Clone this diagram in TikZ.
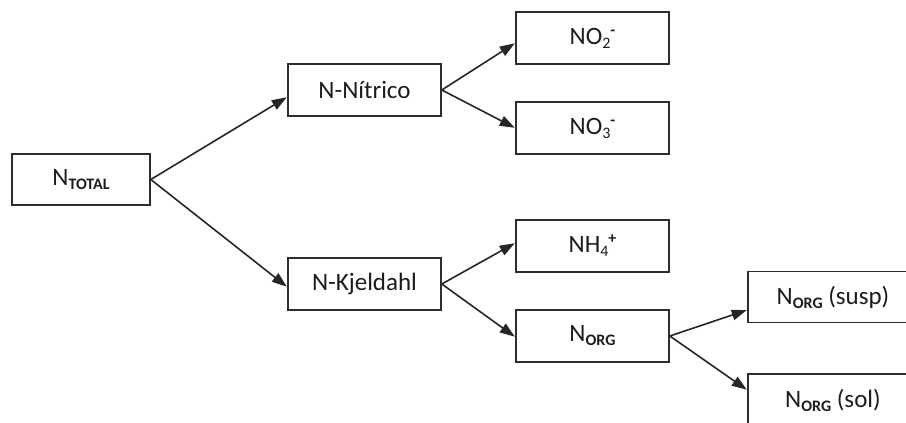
\documentclass[tikz,border=0pt]{standalone}
\usepackage{fontspec}
\setmainfont{Carlito}
\usetikzlibrary{arrows.meta,calc}

% lowered / raised small text for chemical formulas
\newcommand{\lowtxt}[1]{\raisebox{-0.16em}{\fontsize{16}{16}\selectfont #1}}
\newcommand{\hightxt}[1]{\raisebox{0.36em}{\fontsize{16}{16}\selectfont #1}}

\definecolor{ink}{HTML}{1C1C1C}
\definecolor{edge}{HTML}{2E2E2E}

\tikzset{
  box/.style={draw=edge, line width=1.6pt, fill=white, text=ink,
              minimum width=153pt, minimum height=52pt, inner sep=0pt,
              font=\fontsize{25}{28}\selectfont},
  widebox/.style={box, minimum width=170pt, minimum height=51pt},
  link/.style={draw=black!85, line width=1.6pt,
               -{Triangle[length=15pt,width=10.5pt]}, shorten >=0.5pt}
}

\begin{document}
\begin{tikzpicture}[x=1pt,y=-1pt]
  \useasboundingbox (0,0) rectangle (906,423);
  \clip (0,0) rectangle (906,423);

  % nodes
  \node[box, minimum width=138pt, minimum height=51pt] (total) at (81,179.5) {N\lowtxt{\bfseries TOTAL}};
  \node[box] (nit) at (364.5,90)  {N-Nítrico};
  \node[box] (kj)  at (364.5,284) {N-Kjeldahl};
  \node[box] (no2) at (592.5,38)  {NO\lowtxt{2}\hightxt{\bfseries -}};
  \node[box] (no3) at (592.5,128) {NO\lowtxt{3}\hightxt{\bfseries -}};
  \node[box] (nh4) at (592.5,246) {NH\lowtxt{4}\hightxt{\bfseries +}};
  \node[box] (norg) at (592.5,336) {N\lowtxt{\bfseries ORG}};
  \node[widebox] (susp) at (833,297) {N\lowtxt{\bfseries ORG} (susp)};
  \node[widebox, minimum height=52pt] (sol) at (833,400) {N\lowtxt{\bfseries ORG} (sol)};

  % connectors
  \draw[link] (total.east) -- ($(nit.west)+(0,7)$);
  \draw[link] (total.east) -- ($(kj.west)+(0,3)$);
  \draw[link] (nit.east) -- ($(no2.west)+(0,5)$);
  \draw[link] (nit.east) -- (no3.west);
  \draw[link] (kj.east) -- ($(nh4.west)+(0,-3)$);
  \draw[link] (kj.east) -- ($(norg.west)+(0,1)$);
  \draw[link] (norg.east) -- ($(susp.west)+(0,13)$);
  \draw[link] (norg.east) -- ($(sol.west)+(0,-10)$);
\end{tikzpicture}
\end{document}
